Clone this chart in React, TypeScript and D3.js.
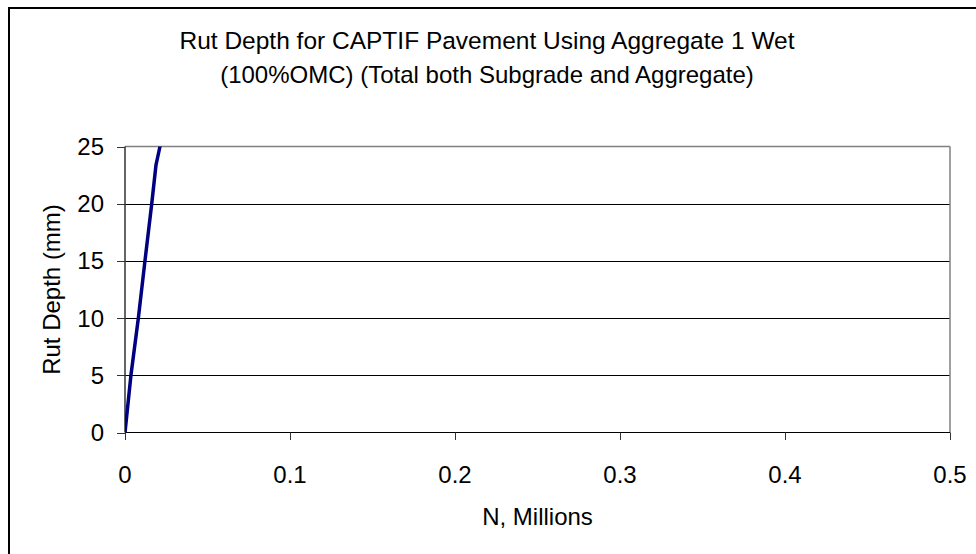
import React from "react";
import * as d3 from "d3";

const nValues = [0, 0.0036, 0.0081, 0.0121, 0.0162, 0.0188, 0.0212, 0.0225];
const rutValues = [0, 5, 10, 15, 20, 23.4, 25, 25.6];
const xTicks = [0, 0.1, 0.2, 0.3, 0.4, 0.5];
const yTicks = [0, 5, 10, 15, 20, 25];
const titleLines = [
  "Rut Depth for CAPTIF Pavement Using Aggregate 1 Wet",
  "(100%OMC) (Total both Subgrade and Aggregate)",
];

export default function App() {
  const W = 976, H = 554;
  const left = 125, right = 950, top = 146.5, bottom = 432.5;
  const x = d3.scaleLinear().domain([0, 0.5]).range([left, right]);
  const y = d3.scaleLinear().domain([0, 25]).range([bottom, top]);
  const pts = nValues.map((n, i) => [n, rutValues[i]] as [number, number]);
  const line = d3.line<[number, number]>().x(d => x(d[0])).y(d => y(d[1]));
  const font = "'Liberation Sans', Arial, sans-serif";
  return (
    <svg width={W} height={H} style={{ position: "absolute", left: 0, top: 0 }} fontFamily={font}>
      <rect x={0} y={0} width={W} height={H} fill="#fff" />
      <rect x={9} y={8} width={1000} height={1000} fill="none" stroke="#000" strokeWidth={2} />
      <defs>
        <clipPath id="plotclip">
          <rect x={left} y={top} width={right - left} height={bottom - top} />
        </clipPath>
      </defs>
      {yTicks.filter(t => t > 0 && t < 25).map(t => (
        <line key={t} x1={left} x2={right} y1={Math.round(y(t)) + 0.5} y2={Math.round(y(t)) + 0.5} stroke="#000" strokeWidth={1} />
      ))}
      <line x1={left} x2={right} y1={top} y2={top} stroke="#808080" strokeWidth={1.5} />
      <line x1={right} x2={right} y1={top} y2={bottom} stroke="#808080" strokeWidth={1.5} />
      <line x1={left} x2={right} y1={bottom} y2={bottom} stroke="#000" strokeWidth={1.2} />
      <line x1={left} x2={left} y1={top} y2={bottom} stroke="#333" strokeWidth={1.5} />
      {yTicks.map(t => (
        <g key={t}>
          <line x1={117} x2={left} y1={Math.round(y(t)) + 0.5} y2={Math.round(y(t)) + 0.5} stroke="#333" strokeWidth={1} />
          <text x={104} y={y(t) + 8.5} fontSize={24} textAnchor="end" fill="#000">{t}</text>
        </g>
      ))}
      {xTicks.map(t => (
        <g key={t}>
          <line x1={Math.round(x(t)) + 0.5} x2={Math.round(x(t)) + 0.5} y1={bottom} y2={440} stroke="#333" strokeWidth={1} />
          <text x={x(t)} y={483} fontSize={24} textAnchor="middle" fill="#000">{t}</text>
        </g>
      ))}
      <path d={line(pts) || ""} fill="none" stroke="#000080" strokeWidth={3.5} strokeLinejoin="round" clipPath="url(#plotclip)" />
      {titleLines.map((s, i) => (
        <text key={i} x={487} y={49 + i * 34} fontSize={i === 0 ? 24.5 : 24} textAnchor="middle" fill="#000">{s}</text>
      ))}
      <text x={537.5} y={525} fontSize={24} textAnchor="middle" fill="#000">N, Millions</text>
      <text transform={`translate(60,${(top + bottom) / 2}) rotate(-90)`} fontSize={24} textAnchor="middle" fill="#000">Rut Depth (mm)</text>
    </svg>
  );
}
